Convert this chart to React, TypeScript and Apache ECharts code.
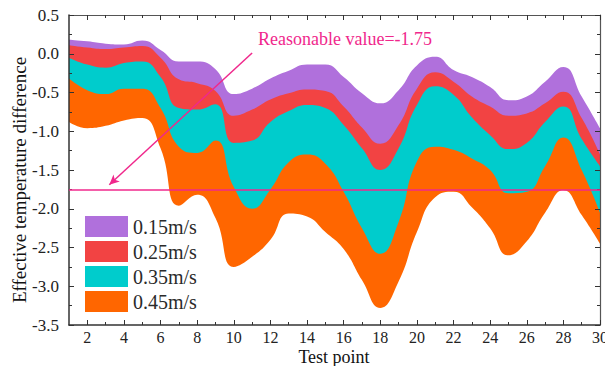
import React, { useEffect, useRef } from "react";
import * as echarts from "echarts";

const testPoints = [1, 2, 3, 4, 5, 6, 7, 8, 9, 10, 11, 12, 13, 14, 15, 16, 17, 18, 19, 20, 21, 22, 23, 24, 25, 26, 27, 28, 29, 30];
const xTickLabels = [2, 4, 6, 8, 10, 12, 14, 16, 18, 20, 22, 24, 26, 28, 30];
const xMinorTicks = [3, 5, 7, 9, 11, 13, 15, 17, 19, 21, 23, 25, 27, 29];

// upper boundary of the 0.15m/s band
const top015 = [0.18, 0.16, 0.13, 0.12, 0.17, 0.05, -0.1, -0.1, -0.2, -0.52, -0.45, -0.32, -0.22, -0.14, -0.14, -0.3, -0.51, -0.64, -0.47, -0.15, -0.04, -0.21, -0.3, -0.43, -0.6, -0.55, -0.36, -0.17, -0.55, -0.96];
// upper boundary of the 0.25m/s band
const top025 = [0.11, 0.08, 0.06, 0.08, 0.1, -0.05, -0.33, -0.38, -0.48, -0.8, -0.72, -0.59, -0.51, -0.46, -0.48, -0.68, -0.95, -1.16, -0.92, -0.45, -0.24, -0.36, -0.55, -0.68, -0.8, -0.77, -0.64, -0.49, -0.83, -1.3];
// upper boundary of the 0.35m/s band
const top035 = [-0.05, -0.14, -0.18, -0.12, -0.1, -0.3, -0.7, -0.72, -0.65, -1.15, -1.12, -0.88, -0.74, -0.66, -0.7, -0.92, -1.22, -1.5, -1.22, -0.66, -0.42, -0.53, -0.82, -1.05, -1.23, -1.15, -0.88, -0.68, -1.1, -1.45];
// upper boundary of the 0.45m/s band
const top045 = [-0.32, -0.47, -0.52, -0.45, -0.45, -0.7, -1.2, -1.28, -1.12, -1.72, -2.0, -1.75, -1.4, -1.3, -1.42, -1.78, -2.25, -2.58, -2.17, -1.39, -1.2, -1.24, -1.35, -1.5, -1.8, -1.78, -1.45, -1.08, -1.5, -2.05];
// lower boundary of the 0.45m/s band
const bottom045 = [-0.88, -0.96, -0.93, -0.86, -0.83, -1.22, -1.96, -1.82, -2.12, -2.75, -2.62, -2.4, -2.06, -2.1, -2.3, -2.52, -2.92, -3.28, -2.94, -2.3, -1.85, -1.78, -1.98, -2.25, -2.6, -2.42, -2.05, -1.76, -2.08, -2.45];

const seriesNames = ["0.15m/s", "0.25m/s", "0.35m/s", "0.45m/s"];
const reasonableValue = -1.75;
const arrowFrom = [11.0, 0.01];
const arrowTo = [3.2, -1.69];

export default function App() {
  const ref = useRef<HTMLDivElement>(null);
  useEffect(() => {
    const chart = echarts.init(ref.current!, null, { renderer: "svg" });
    const font = "Liberation Serif";
    const pink = "#F0288C";
    const axisColor = "#333";
    const pairs = (a: number[]) => testPoints.map((x, i) => [x, a[i]]);

    // each boundary is filled down to the axis minimum, painted top band first
    const fill = (name: string, color: string, data: number[][], extra: any = {}) => ({
      name,
      type: "line",
      smooth: 0.5,
      showSymbol: false,
      symbol: "none",
      color,
      lineStyle: { width: 0, opacity: 0 },
      areaStyle: { color, opacity: 1, origin: "start" },
      data,
      silent: true,
      z: 2,
      ...extra,
    });

    const baseX = {
      type: "value",
      min: 1,
      max: 30,
      splitLine: { show: false },
      z: 5,
    };

    chart.setOption({
      animation: false,
      grid: { left: 69, right: 5, top: 15, bottom: 41, containLabel: false, outerBoundsMode: "none" },
      legend: {
        data: seriesNames,
        orient: "vertical",
        left: 80,
        top: 211,
        itemWidth: 43,
        itemHeight: 21,
        itemGap: 4,
        icon: "rect",
        selectedMode: false,
        textStyle: { fontFamily: font, fontSize: 20, color: "#2a2a2a" },
        z: 20,
      },
      graphic: [
        {
          type: "text",
          left: 258,
          top: 30,
          z: 20,
          style: { text: "Reasonable value=-1.75", fill: pink, fontFamily: font, fontSize: 18 },
        },
        {
          type: "text",
          x: 19,
          y: 180,
          rotation: Math.PI / 2,
          z: 20,
          style: {
            text: "Effective temperature difference",
            fill: "#111",
            fontFamily: font,
            fontSize: 19,
            align: "center",
            verticalAlign: "middle",
          },
        },
        {
          type: "text",
          x: 334,
          y: 357,
          z: 20,
          style: {
            text: "Test point",
            fill: "#111",
            fontFamily: font,
            fontSize: 18,
            align: "center",
            verticalAlign: "middle",
          },
        },
      ],
      xAxis: [
        {
          ...baseX,
          position: "bottom",
          axisLine: { show: true, onZero: false, lineStyle: { color: axisColor, width: 1.5 } },
          axisTick: { show: true, inside: true, length: 5, customValues: xTickLabels, lineStyle: { color: axisColor } },
          axisLabel: { customValues: xTickLabels, fontFamily: font, fontSize: 16, color: "#222", margin: 4 },
        },
        {
          ...baseX,
          position: "bottom",
          axisLine: { show: false, onZero: false },
          axisTick: { show: true, inside: true, length: 3, customValues: xMinorTicks, lineStyle: { color: axisColor } },
          axisLabel: { show: false },
        },
        {
          ...baseX,
          position: "top",
          axisLine: { show: true, onZero: false, lineStyle: { color: "#555", width: 1.2 } },
          axisTick: { show: true, inside: true, length: 5, customValues: xTickLabels, lineStyle: { color: axisColor } },
          axisLabel: { show: false },
        },
        {
          ...baseX,
          position: "top",
          axisLine: { show: false, onZero: false },
          axisTick: { show: true, inside: true, length: 3, customValues: xMinorTicks, lineStyle: { color: axisColor } },
          axisLabel: { show: false },
        },
      ],
      yAxis: [
        {
          type: "value",
          min: -3.5,
          max: 0.5,
          interval: 0.5,
          position: "left",
          z: 5,
          splitLine: { show: false },
          axisLine: { show: true, onZero: false, lineStyle: { color: axisColor, width: 1.5 } },
          axisTick: { show: true, inside: true, length: 5, lineStyle: { color: axisColor } },
          minorTick: { show: true, splitNumber: 2, length: 3, lineStyle: { color: axisColor } },
          axisLabel: {
            fontFamily: font,
            fontSize: 17,
            color: "#222",
            margin: 10,
            formatter: (v: number) => v.toFixed(1),
          },
        },
        {
          type: "value",
          min: -3.5,
          max: 0.5,
          interval: 0.5,
          position: "right",
          z: 5,
          splitLine: { show: false },
          axisLine: { show: true, onZero: false, lineStyle: { color: "#555", width: 1.2 } },
          axisTick: { show: true, inside: true, length: 5, lineStyle: { color: axisColor } },
          minorTick: { show: true, splitNumber: 2, length: 3, lineStyle: { color: axisColor } },
          axisLabel: { show: false },
        },
      ],
      series: [
        fill(seriesNames[0], "#B070DC", pairs(top015)),
        fill(seriesNames[1], "#F24343", pairs(top025)),
        fill(seriesNames[2], "#00CCCC", pairs(top035)),
        fill(seriesNames[3], "#FF6600", pairs(top045)),
        fill("below", "#FFFFFF", pairs(bottom045), {
          markLine: {
            silent: true,
            symbol: ["none", "none"],
            label: { show: false },
            lineStyle: { color: pink, width: 1.5, type: "solid" },
            data: [{ yAxis: reasonableValue }],
            z: 10,
          },
        }),
        {
          name: "arrow",
          type: "line",
          data: [],
          silent: true,
          markLine: {
            silent: true,
            symbol: ["none", "arrow"],
            symbolSize: [7, 10],
            label: { show: false },
            lineStyle: { color: pink, width: 1.5, type: "solid" },
            data: [[{ coord: arrowFrom }, { coord: arrowTo }]],
            z: 10,
          },
        },
      ],
    });
    return () => chart.dispose();
  }, []);
  return <div ref={ref} style={{ position: "absolute", left: 0, top: 0, width: 605, height: 366 }} />;
}
